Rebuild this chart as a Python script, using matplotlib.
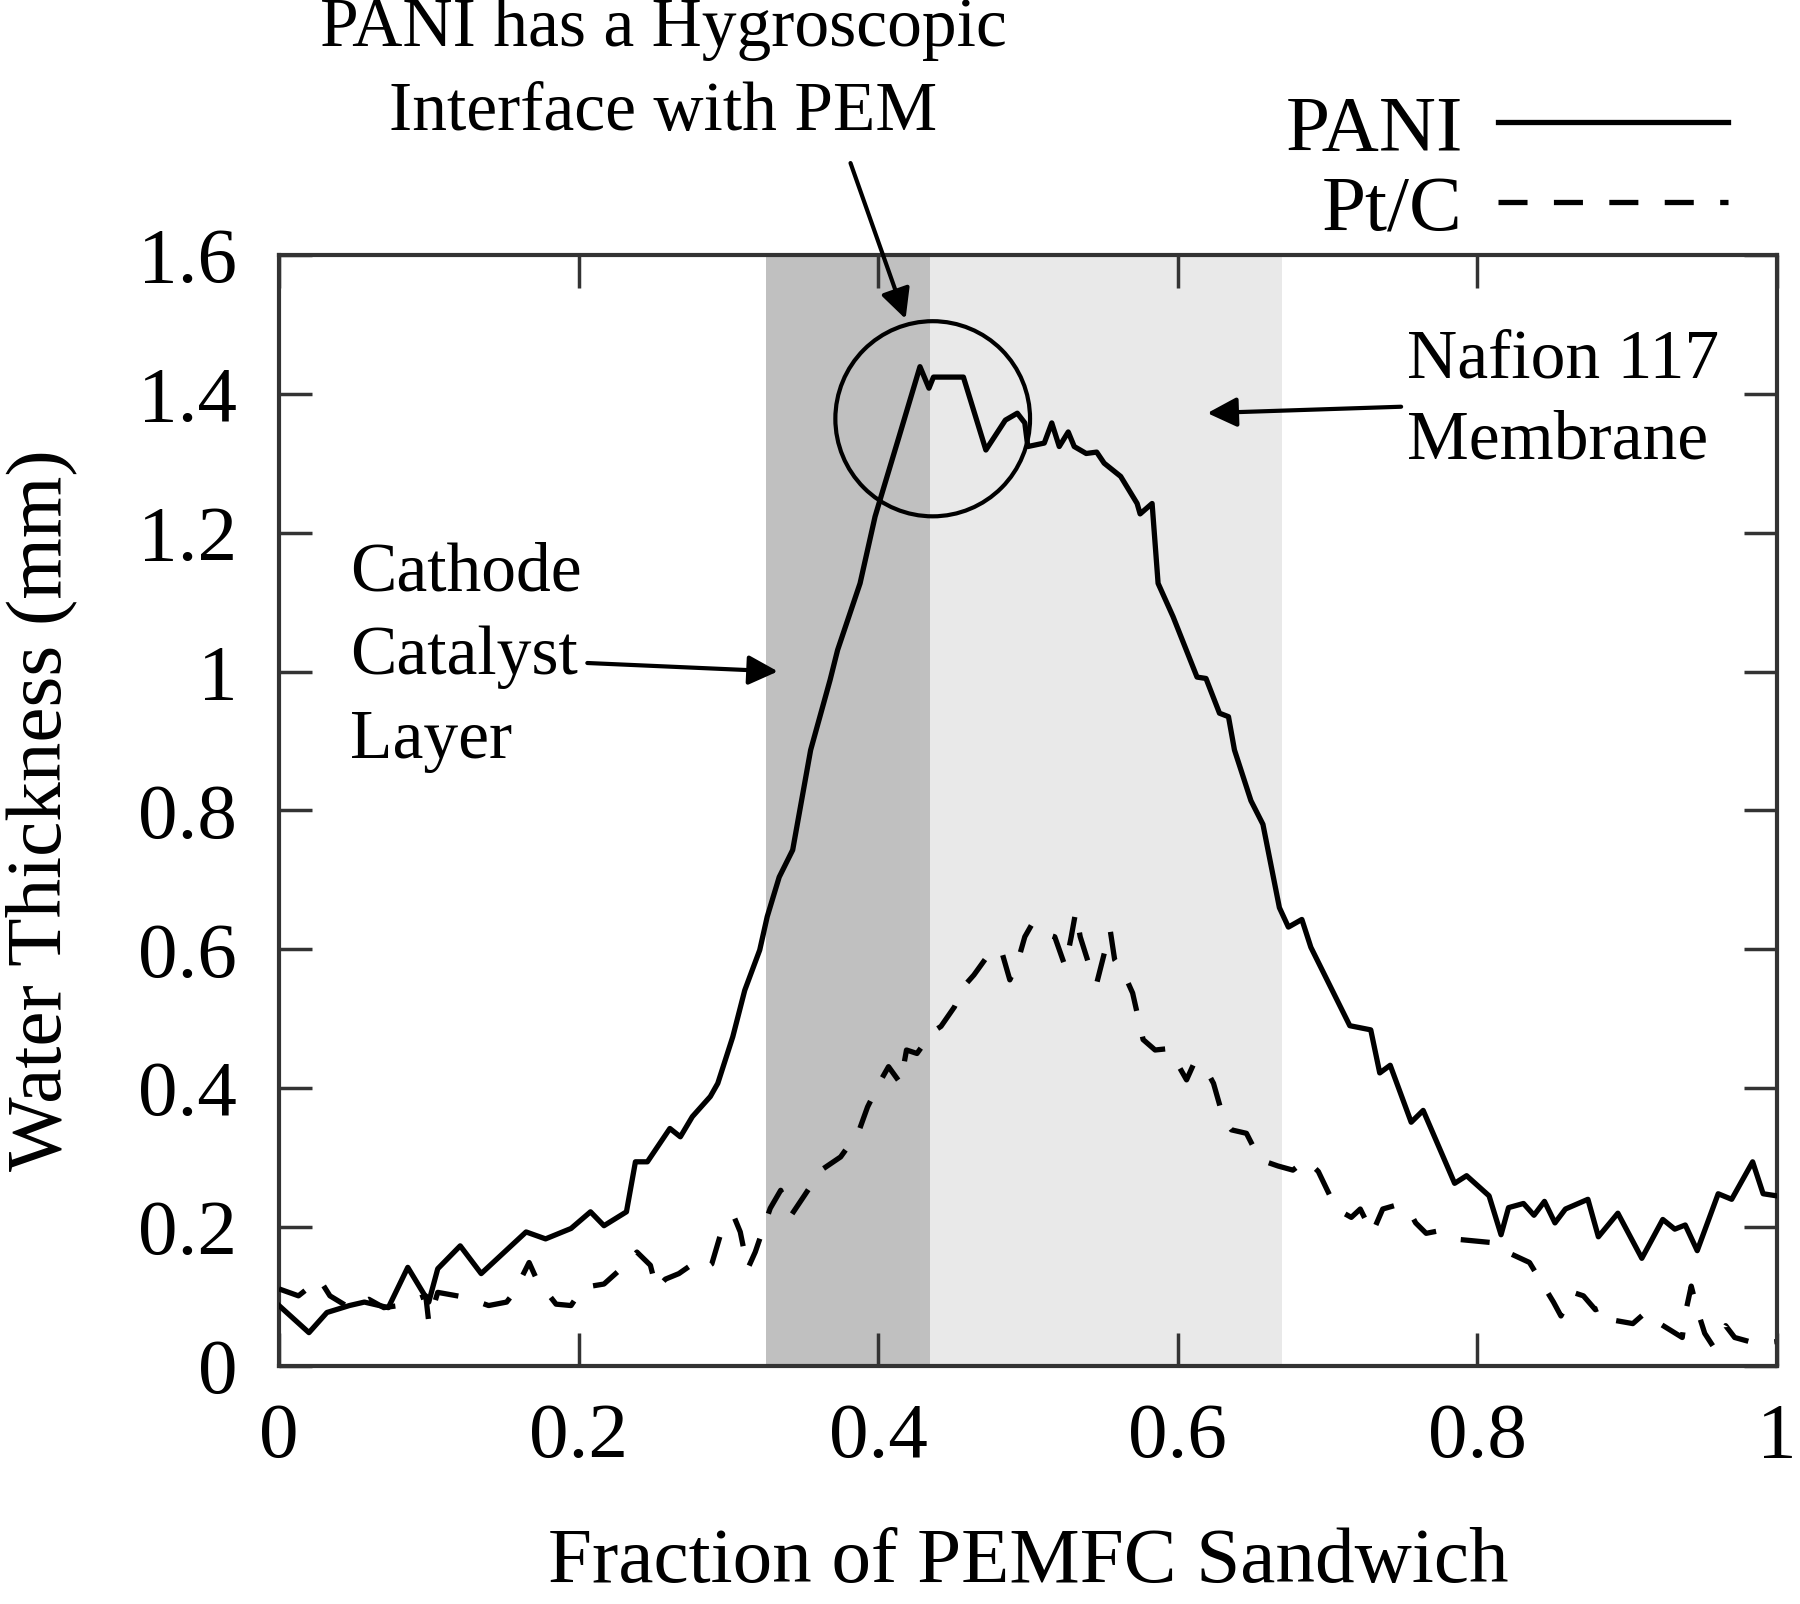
import matplotlib
matplotlib.use("Agg")
import matplotlib.pyplot as plt
from matplotlib.patches import Ellipse

# water thickness profiles
pani_x = [0.000, 0.020, 0.032, 0.047, 0.057, 0.073, 0.086, 0.100, 0.106, 0.121,
          0.135, 0.165, 0.178, 0.195, 0.208, 0.217, 0.232, 0.238, 0.246, 0.261,
          0.268, 0.276, 0.288, 0.293, 0.303, 0.311, 0.321, 0.326, 0.334, 0.343,
          0.355, 0.368, 0.373, 0.388, 0.398, 0.402, 0.414, 0.428, 0.434, 0.437,
          0.457, 0.472, 0.485, 0.493, 0.498, 0.500, 0.511, 0.516, 0.521, 0.527,
          0.531, 0.539, 0.546, 0.551, 0.562, 0.573, 0.575, 0.583, 0.587, 0.597,
          0.613, 0.619, 0.628, 0.634, 0.638, 0.649, 0.657, 0.668, 0.674, 0.683,
          0.689, 0.715, 0.729, 0.735, 0.742, 0.756, 0.764, 0.785, 0.793, 0.808,
          0.816, 0.821, 0.831, 0.838, 0.845, 0.852, 0.859, 0.874, 0.881, 0.894,
          0.910, 0.924, 0.932, 0.939, 0.947, 0.961, 0.970, 0.984, 0.991, 1.000]
pani_y = [0.087, 0.048, 0.077, 0.087, 0.092, 0.084, 0.142, 0.092, 0.140, 0.173,
          0.133, 0.193, 0.183, 0.198, 0.222, 0.202, 0.222, 0.294, 0.294, 0.342,
          0.330, 0.359, 0.388, 0.407, 0.474, 0.541, 0.599, 0.647, 0.704, 0.743,
          0.887, 0.988, 1.031, 1.127, 1.223, 1.252, 1.338, 1.439, 1.408, 1.424,
          1.424, 1.319, 1.362, 1.372, 1.358, 1.324, 1.329, 1.358, 1.324, 1.345,
          1.324, 1.314, 1.316, 1.300, 1.281, 1.242, 1.227, 1.242, 1.127, 1.079,
          0.992, 0.990, 0.940, 0.935, 0.887, 0.814, 0.780, 0.660, 0.632, 0.643,
          0.603, 0.490, 0.484, 0.422, 0.433, 0.351, 0.368, 0.263, 0.274, 0.245,
          0.189, 0.228, 0.234, 0.217, 0.237, 0.206, 0.226, 0.240, 0.186, 0.220,
          0.155, 0.211, 0.197, 0.203, 0.166, 0.248, 0.240, 0.294, 0.248, 0.245]

ptc_x = [0.000, 0.013, 0.027, 0.034, 0.047, 0.060, 0.070, 0.080, 0.098, 0.100,
         0.106, 0.124, 0.140, 0.152, 0.157, 0.167, 0.172, 0.185, 0.195, 0.203,
         0.217, 0.231, 0.239, 0.248, 0.252, 0.258, 0.267, 0.275, 0.282, 0.289,
         0.296, 0.304, 0.308, 0.313, 0.318, 0.328, 0.335, 0.342, 0.351, 0.362,
         0.375, 0.387, 0.393, 0.402, 0.407, 0.415, 0.419, 0.426, 0.431, 0.435,
         0.442, 0.451, 0.457, 0.464, 0.473, 0.482, 0.488, 0.493, 0.498, 0.503,
         0.511, 0.518, 0.525, 0.529, 0.532, 0.535, 0.541, 0.546, 0.550, 0.555,
         0.558, 0.564, 0.570, 0.577, 0.585, 0.594, 0.601, 0.606, 0.611, 0.618,
         0.624, 0.631, 0.636, 0.646, 0.655, 0.667, 0.677, 0.686, 0.694, 0.706,
         0.716, 0.722, 0.730, 0.737, 0.745, 0.754, 0.759, 0.766, 0.773, 0.784,
         0.813, 0.818, 0.835, 0.851, 0.856, 0.864, 0.871, 0.879, 0.885, 0.891,
         0.904, 0.913, 0.922, 0.937, 0.939, 0.943, 0.947, 0.952, 0.958, 0.966,
         0.972, 0.987, 0.999]
ptc_y = [0.111, 0.101, 0.125, 0.101, 0.084, 0.096, 0.084, 0.087, 0.101, 0.063,
         0.106, 0.099, 0.087, 0.092, 0.106, 0.149, 0.125, 0.089, 0.087, 0.113,
         0.118, 0.145, 0.164, 0.145, 0.111, 0.125, 0.133, 0.145, 0.137, 0.147,
         0.198, 0.214, 0.193, 0.140, 0.164, 0.227, 0.253, 0.217, 0.246, 0.282,
         0.301, 0.337, 0.373, 0.412, 0.431, 0.407, 0.455, 0.450, 0.465, 0.479,
         0.489, 0.517, 0.546, 0.563, 0.590, 0.601, 0.556, 0.580, 0.618, 0.637,
         0.623, 0.618, 0.575, 0.618, 0.654, 0.618, 0.577, 0.551, 0.585, 0.628,
         0.585, 0.566, 0.537, 0.470, 0.455, 0.457, 0.431, 0.412, 0.436, 0.431,
         0.407, 0.354, 0.340, 0.335, 0.297, 0.288, 0.282, 0.297, 0.280, 0.226,
         0.214, 0.226, 0.191, 0.226, 0.231, 0.226, 0.206, 0.191, 0.194, 0.183,
         0.177, 0.166, 0.149, 0.092, 0.072, 0.106, 0.101, 0.081, 0.086, 0.066,
         0.061, 0.078, 0.061, 0.041, 0.075, 0.115, 0.081, 0.047, 0.027, 0.058,
         0.041, 0.032, 0.035]

# layer boundaries (fraction of sandwich)
catalyst_span = (0.325, 0.435)
membrane_span = (0.435, 0.67)

xticks = [0, 0.2, 0.4, 0.6, 0.8, 1]
xlabels = ["0", "0.2", "0.4", "0.6", "0.8", "1"]
yticks = [0, 0.2, 0.4, 0.6, 0.8, 1, 1.2, 1.4, 1.6]
ylabels = ["0", "0.2", "0.4", "0.6", "0.8", "1", "1.2", "1.4", "1.6"]

plt.rcParams["font.family"] = ["Liberation Serif", "DejaVu Serif"]

fig = plt.figure(figsize=(18, 16.04), dpi=100)
ax = fig.add_axes([0.155, 0.1484, 0.832, 0.6927])

ax.axvspan(*catalyst_span, color="#c0c0c0", lw=0, zorder=0)
ax.axvspan(*membrane_span, color="#e9e9e9", lw=0, zorder=0)

ax.plot(pani_x, pani_y, color="black", lw=3.8, label="PANI", zorder=3)
ax.plot(ptc_x, ptc_y, color="black", lw=3.8, dashes=(5.5, 5), label="Pt/C", zorder=3)

ax.set_xlim(0, 1)
ax.set_ylim(0, 1.6)
ax.set_xticks(xticks, labels=xlabels)
ax.set_yticks(yticks, labels=ylabels)
ax.tick_params(direction="in", length=24, width=2.5, top=True, right=True,
               labelsize=57, color="#333333")
ax.tick_params(axis="y", pad=30)
ax.tick_params(axis="x", pad=26)
for sp in ax.spines.values():
    sp.set_linewidth(3)
    sp.set_color("#333333")

ax.set_xlabel("Fraction of PEMFC Sandwich", fontsize=57)
ax.set_ylabel("Water Thickness (mm)", fontsize=57)
ax.xaxis.set_label_coords(0.5, -0.145)
ax.yaxis.set_label_coords(-0.135, 0.5)

# circle around the interface peak
ax.add_patch(Ellipse((0.4365, 1.364), 0.130, 0.281, fill=False, lw=3,
                     color="black", zorder=4))

arrow = dict(arrowstyle="-|>", lw=3, color="black", mutation_scale=45)
ax.annotate("Cathode\nCatalyst\nLayer", xy=(0.335, 1.0), xytext=(0.0475, 1.02),
            fontsize=50, ha="left", va="center", arrowprops=arrow,
            linespacing=1.42)
ax.annotate("Nafion 117\nMembrane", xy=(0.618, 1.372), xytext=(0.753, 1.389),
            fontsize=50, ha="left", va="center", arrowprops=arrow,
            linespacing=1.35)
ax.annotate("", xy=(0.419, 1.504), xytext=(0.381, 1.736),
            arrowprops=arrow, annotation_clip=False)
ax.text(0.2565, 1.864, "PANI has a Hygroscopic\nInterface with PEM", fontsize=50,
        ha="center", va="center", multialignment="center", linespacing=1.42,
        clip_on=False)

ax.legend(loc="lower right", bbox_to_anchor=(0.96, 0.846),
          bbox_transform=fig.transFigure, frameon=False, markerfirst=False,
          fontsize=57, handlelength=2.9, handletextpad=0.45, labelspacing=0.1,
          borderpad=0, borderaxespad=0)

fig.savefig("out.png", dpi=100)
